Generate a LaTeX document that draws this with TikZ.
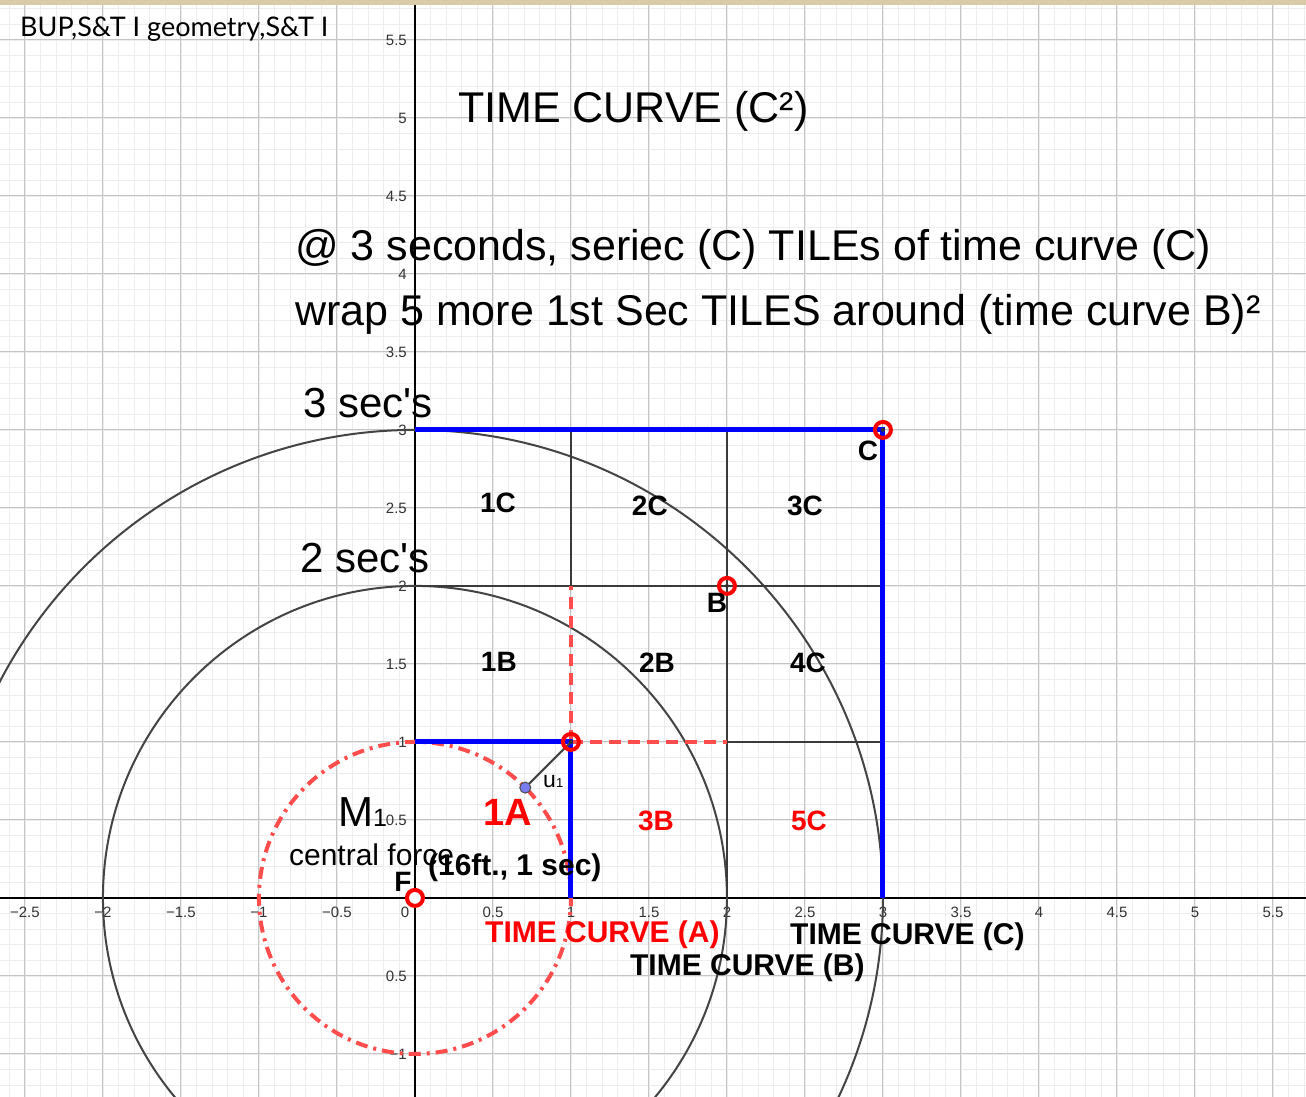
\documentclass[tikz,border=0pt]{standalone}
\usepackage{fontspec}
\setmainfont{Liberation Sans}
\newfontfamily\plainsans{Liberation Sans}
\newfontfamily\gillfont{Lato}
\usetikzlibrary{calc}
\definecolor{gridminor}{HTML}{EDEDED}
\definecolor{gridmajor}{HTML}{C4C4C4}
\definecolor{curvegray}{HTML}{444444}
\definecolor{tilegray}{HTML}{3A3A3A}
\definecolor{ggblue}{HTML}{0000FF}
\definecolor{ggred}{HTML}{FF4D4D}
\definecolor{ptred}{HTML}{FF0000}
\definecolor{ptblue}{HTML}{7B7BF0}
\definecolor{parchment}{HTML}{D9CBA8}
\tikzset{
  minorgrid/.style={draw=gridminor, line width=0.8pt},
  majorgrid/.style={draw=gridmajor, line width=1pt},
  axisline/.style={draw=black, line width=1.5pt},
  ticklab/.style={font=\fontsize{15}{15}\selectfont, text=black!80, inner sep=0pt},
  timecurve/.style={draw=curvegray, line width=2pt},
  tileline/.style={draw=tilegray, line width=2pt},
  blueline/.style={draw=ggblue, line width=5pt},
  reddash/.style={draw=ggred, line width=4pt, dash pattern=on 12pt off 7pt},
  reddashdot/.style={draw=ggred, line width=4pt, dash pattern=on 12pt off 6pt on 3pt off 6pt},
  ptring/.style={circle, draw=ptred, line width=4pt, minimum size=16pt, inner sep=0pt},
  ptdot/.style={circle, fill=#1, minimum size=4pt, inner sep=0pt},
  bigtext/.style={font=\fontsize{43}{43}\selectfont, inner sep=0pt, anchor=base west},
  tilelab/.style={font=\bfseries\fontsize{28}{28}\selectfont, inner sep=0pt},
  redlab/.style={tilelab, text=ptred},
  curvelab/.style={font=\bfseries\fontsize{30}{30}\selectfont, inner sep=0pt, anchor=base west}
}

\begin{document}
\begin{tikzpicture}[x=156pt,y=156pt]
  \useasboundingbox (-2.660,-1.276) rectangle (5.712,5.756);
  \clip (-2.660,-1.276) rectangle (5.712,5.756);
  \fill[white] (-2.660,-1.276) rectangle (5.712,5.756);

  \foreach \i in {-26,...,57} \draw[minorgrid] (\i/10,-1.276) -- (\i/10,5.756);
  \foreach \j in {-12,...,57} \draw[minorgrid] (-2.660,\j/10) -- (5.712,\j/10);
  \foreach \i in {-5,...,11} \draw[majorgrid] (\i/2,-1.276) -- (\i/2,5.756);
  \foreach \j in {-2,...,11} \draw[majorgrid] (-2.660,\j/2) -- (5.712,\j/2);
  \fill[parchment] (-2.660,5.724) rectangle (5.712,5.756);

  \draw[axisline] (-2.660,0) -- (5.712,0);
  \draw[axisline] (0,-1.276) -- (0,5.724);

  \foreach \x/\t [count=\k] in {-2.5/−2.5,-2/−2,-1.5/−1.5,-1/−1,-0.5/−0.5,0.5/0.5,1/1,1.5/1.5,2/2,2.5/2.5,3/3,3.5/3.5,4/4,4.5/4.5,5/5,5.5/5.5}
    \node[ticklab] (xt\k) at (\x,-0.09) {\t};
  \node[ticklab] (xt0) at (-0.064,-0.09) {0};
  \foreach \y/\t [count=\k] in {-1/−1,-0.5/0.5,0.5/0.5,1/1,1.5/1.5,2/2,2.5/2.5,3/3,3.5/3.5,4/4,4.5/4.5,5/5,5.5/5.5}
    \node[ticklab, anchor=east] (yt\k) at (-0.051,\y) {\t};

  \coordinate (F) at (0,0);
  \coordinate (A) at (1,1);
  \coordinate (B) at (2,2);
  \coordinate (C) at (3,3);
  \coordinate (u1) at (0.7071,0.7071);

  \draw[timecurve] (F) circle[radius=2];
  \draw[timecurve] (F) circle[radius=3];
  \draw[reddashdot] (F) circle[radius=1];

  \draw[tileline] (1,3) -- (1,2);
  \draw[tileline] (2,3) -- (2,0);
  \draw[tileline] (0,2) -- (3,2);
  \draw[tileline] (2,1) -- (3,1);
  \draw[reddash] (A) -- (1,2);
  \draw[reddash] (A) -- (2,1);
  \draw[blueline] (0,3) -- (C) -- (3,0);
  \draw[blueline] (0,1) -- (A) -- (1,0);
  \draw[curvegray, line width=2pt] (A) -- (u1);

  \node[circle, draw=black!70, fill=ptblue, line width=1pt, minimum size=11pt, inner sep=0pt] (pu) at (u1) {};
  \node[ptring, fill=white] (pF) at (F) {};
  \foreach \p in {A,B,C} {
    \node[ptring] (p\p) at (\p) {};
    \node[ptdot=black!80] (d\p) at (\p) {};
  }

  \node[font=\gillfont\fontsize{27}{27}\selectfont, inner sep=0pt, anchor=base west] (tag) at (-2.532,5.519) {BUP,S\&T I geometry,S\&T I};
  \node[bigtext] (heading) at (0.276,4.968) {TIME CURVE (C²)};
  \node[bigtext] (lineone) at (-0.769,4.083) {@ 3 seconds, seriec (C) TILEs of time curve (C)};
  \node[bigtext] (linetwo) at (-0.769,3.672) {wrap 5 more 1st Sec TILES around (time curve B)²};
  \node[bigtext, font=\plainsans\fontsize{42}{42}\selectfont] (threesec) at (-0.718,3.077) {3 sec's};
  \node[bigtext, font=\plainsans\fontsize{42}{42}\selectfont] (twosec) at (-0.737,2.083) {2 sec's};

  \node[tilelab] (t1C) at (0.532,2.532) {1C};
  \node[tilelab] (t2C) at (1.506,2.513) {2C};
  \node[tilelab] (t3C) at (2.500,2.513) {3C};
  \node[tilelab] (t1B) at (0.538,1.513) {1B};
  \node[tilelab] (t2B) at (1.551,1.506) {2B};
  \node[tilelab] (t4C) at (2.519,1.506) {4C};
  \node[redlab, font=\bfseries\fontsize{38}{38}\selectfont] (t1A) at (0.596,0.545) {1A};
  \node[redlab] (t3B) at (1.545,0.494) {3B};
  \node[redlab] (t5C) at (2.526,0.494) {5C};

  \node[inner sep=0pt, anchor=base west] (M1) at (-0.494,0.455) {{\fontsize{42}{42}\selectfont M}{\fontsize{25}{25}\selectfont 1}};
  \node[inner sep=0pt, anchor=base west, font=\fontsize{30}{30}\selectfont] (central) at (-0.808,0.205) {central force};
  \node[curvelab] (sixteen) at (0.083,0.141) {(16ft., 1 sec)};
  \node[tilelab] (labF) at (-0.077,0.103) {F};
  \node[inner sep=0pt, anchor=base west] (labu) at (0.821,0.705) {{\fontsize{23}{23}\selectfont u}{\fontsize{13}{13}\selectfont 1}};
  \node[tilelab] (labB) at (1.936,1.891) {B};
  \node[tilelab] (labC) at (2.904,2.865) {C};

  \node[curvelab, text=ptred] (curveA) at (0.449,-0.288) {TIME CURVE (A)};
  \node[curvelab] (curveC) at (2.404,-0.301) {TIME CURVE (C)};
  \node[curvelab] (curveB) at (1.378,-0.500) {TIME CURVE (B)};
\end{tikzpicture}
\end{document}
